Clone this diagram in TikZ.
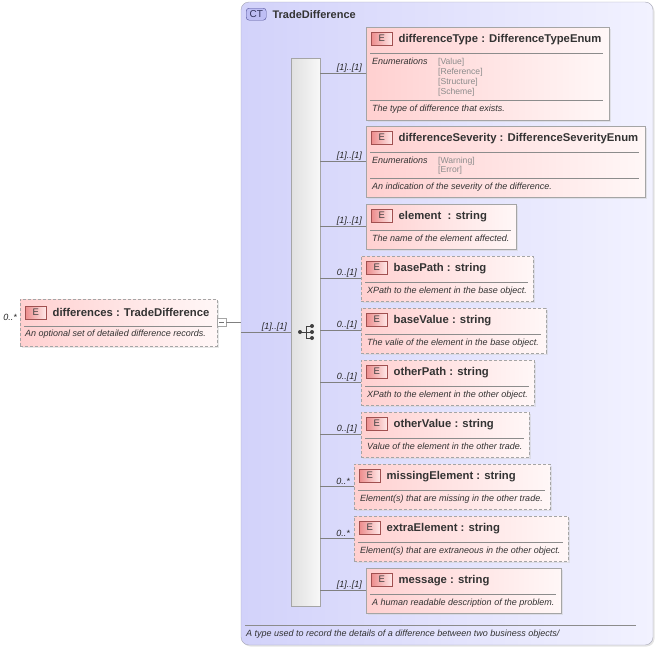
\documentclass[tikz,border=0pt]{standalone}
\usepackage{fontspec}
\setmainfont{Liberation Sans}
\usepackage{xcolor}
\usepackage{tikz}
\usetikzlibrary{shadows}
\usetikzlibrary{calc}

\definecolor{ctfillL}{RGB}{210,210,250}
\definecolor{ctfillR}{RGB}{242,242,255}
\definecolor{ctline}{RGB}{165,165,180}
\definecolor{ctbadge}{RGB}{190,190,244}
\definecolor{ctbadgeline}{RGB}{80,80,150}
\definecolor{elfillL}{RGB}{255,208,208}
\definecolor{elfillR}{RGB}{255,247,247}
\definecolor{elline}{RGB}{165,165,165}
\definecolor{ebadgeL}{RGB}{236,140,140}
\definecolor{ebadgeR}{RGB}{255,232,232}
\definecolor{ebadgeline}{RGB}{160,80,80}
\definecolor{connline}{RGB}{128,128,128}
\definecolor{enumtext}{RGB}{140,140,140}

\begin{document}
\begin{tikzpicture}[x=1pt, y=-1pt]

		\tikzstyle{ctbox}   = [draw=ctline, rounded corners=8pt, left color=ctfillL, right color=ctfillR, anchor=north west, inner sep=0pt, outer sep=0pt, drop shadow={shadow xshift=1.5pt, shadow yshift=-1.5pt, fill=black!20}]
		\tikzstyle{ctbadge} = [draw=ctbadgeline, rounded corners=3pt, fill=ctbadge, anchor=north west, minimum width=20pt, minimum height=12pt, inner sep=0pt, text=ctbadgeline!60!black, font=\fontsize{10}{11}\selectfont]
		\tikzstyle{cttitle} = [anchor=base west, inner sep=0pt, text=black!80, font=\fontsize{11}{13}\selectfont\bfseries]
		\tikzstyle{seqbar}  = [draw=elline, left color=black!12, right color=black!3, anchor=north west, inner sep=0pt, outer sep=0pt]
		\tikzstyle{ebox}    = [draw=elline, left color=elfillL, right color=elfillR, anchor=north west, minimum height=45pt, inner sep=0pt, outer sep=0pt, drop shadow={shadow xshift=1.5pt, shadow yshift=-1.5pt, fill=black!18}]
		\tikzstyle{eboxopt} = [ebox, dashed, dash pattern=on 3pt off 2pt]
		\tikzstyle{ebadge}  = [draw=ebadgeline, left color=ebadgeL, right color=ebadgeR, anchor=north west, minimum width=21pt, minimum height=13pt, inner sep=0pt, text=black!75, font=\fontsize{9.5}{10}\selectfont]
		\tikzstyle{etitle}  = [anchor=base west, inner sep=0pt, text=black!80, font=\fontsize{11.3}{13}\selectfont\bfseries]
		\tikzstyle{edesc}   = [anchor=base west, inner sep=0pt, text=black!80, font=\fontsize{9}{10}\selectfont\itshape]
		\tikzstyle{eenum}   = [anchor=base west, inner sep=0pt, text=enumtext, font=\fontsize{8.6}{9}\selectfont]
		\tikzstyle{sepline} = [draw=black!45, line width=0.6pt]
		\tikzstyle{conn}    = [draw=connline, line width=0.7pt]
		\tikzstyle{mult}    = [anchor=east, inner sep=0pt, text=black!85, font=\fontsize{9}{10}\selectfont\itshape]
		\tikzstyle{minusbox}= [draw=elline, fill=white, anchor=west, minimum width=9pt, minimum height=8pt, inner sep=0pt, outer sep=0pt]

		\useasboundingbox (0,0) rectangle (658,648);

		%%Complex type
		\node [ctbox, minimum width=412pt, minimum height=643pt] (ct) at (241,2) {};
		\node [ctbadge] (ctB) at (246,8) {CT};
		\node [cttitle] at ($(ctB.east) + (6,4)$) {TradeDifference};
		\draw [sepline] (245,625) -- (636,625);
		\node [edesc] at (246,636) {A type used to record the details of a difference between two business objects/};

		%%Sequence
		\node [seqbar, minimum width=29pt, minimum height=548pt] (seq) at (291,58) {};
		\coordinate (sq) at (300,332);
		\fill [black!75] (sq) circle (2pt);
		\draw [black!75, line width=0.8pt] (sq) -- ++(6,0);
		\draw [black!75, line width=0.8pt] (306,326) -- (306,338);
		\foreach \y in {326,332,338}
			{\draw [black!75, line width=0.8pt] (306,\y) -- (312,\y); \fill [black!75] (312,\y) circle (2pt);}

		%%Root element
		\node [eboxopt, minimum width=197pt, minimum height=47pt] (root) at (20,299) {};
		\node [ebadge] (rootE) at ($(root.north west) + (5,7)$) {E};
		\node [etitle] at ($(rootE.east) + (6,4)$) {differences : TradeDifference};
		\draw [sepline] ($(root.north west) + (4,27)$) -- ($(root.north east) + (-5,27)$);
		\node [edesc] at ($(root.north west) + (5,37.5)$) {An optional set of detailed difference records.};
		\node [mult] at ($(root.west) + (-3,-5)$) {0..*};
		\node [minusbox] (rootM) at (root.east) {};
		\draw [black!55] ($(rootM.west) + (2,0)$) -- ($(rootM.east) + (-2,0)$);
		\draw [conn] (rootM.east) -- (rootM.east -| ct.west);
		\draw [conn] (ct.west |- sq) -- (seq.west |- sq);
		\node [mult] at ($(seq.west |- sq) + (-4,-5)$) {[1]..[1]};

		%%differenceType
		\node [ebox, minimum width=243pt, minimum height=93pt] (dt) at (366,27) {};
		\node [ebadge] (dtE) at ($(dt.north west) + (5,5)$) {E};
		\node [etitle] at ($(dtE.east) + (6,4)$) {differenceType : DifferenceTypeEnum};
		\draw [sepline] ($(dt.north west) + (4,26)$) -- ($(dt.north east) + (-6,26)$);
		\node [edesc] at ($(dt.north west) + (6,37)$) {Enumerations};
		\node [eenum] at ($(dt.north west) + (72,37)$) {[Value]};
		\node [eenum] at ($(dt.north west) + (72,47)$) {[Reference]};
		\node [eenum] at ($(dt.north west) + (72,57)$) {[Structure]};
		\node [eenum] at ($(dt.north west) + (72,67)$) {[Scheme]};
		\draw [sepline] ($(dt.north west) + (4,73)$) -- ($(dt.north east) + (-6,73)$);
		\node [edesc] at ($(dt.north west) + (6,84)$) {The type of difference that exists.};
		\draw [conn] (seq.east |- dt.west) -- (dt.west);
		\node [mult] at ($(dt.west) + (-4,-5)$) {[1]..[1]};

		%%differenceSeverity
		\node [ebox, minimum width=279pt, minimum height=71pt] (ds) at (366,126) {};
		\node [ebadge] (dsE) at ($(ds.north west) + (5,5)$) {E};
		\node [etitle] at ($(dsE.east) + (6,4)$) {differenceSeverity : DifferenceSeverityEnum};
		\draw [sepline] ($(ds.north west) + (4,26)$) -- ($(ds.north east) + (-6,26)$);
		\node [edesc] at ($(ds.north west) + (6,37)$) {Enumerations};
		\node [eenum] at ($(ds.north west) + (72,37)$) {[Warning]};
		\node [eenum] at ($(ds.north west) + (72,46)$) {[Error]};
		\draw [sepline] ($(ds.north west) + (4,52)$) -- ($(ds.north east) + (-6,52)$);
		\node [edesc] at ($(ds.north west) + (6,63)$) {An indication of the severity of the difference.};
		\draw [conn] (seq.east |- ds.west) -- (ds.west);
		\node [mult] at ($(ds.west) + (-4,-5)$) {[1]..[1]};

		%%element
		\node [ebox, minimum width=150pt] (el) at (366,204) {};
		\node [ebadge] (elE) at ($(el.north west) + (5,5)$) {E};
		\node [etitle] at ($(elE.east) + (6,4)$) {element\ \ : string};
		\draw [sepline] ($(el.north west) + (4,26)$) -- ($(el.north east) + (-5,26)$);
		\node [edesc] at ($(el.north west) + (6,37)$) {The name of the element affected.};
		\draw [conn] (seq.east |- el.west) -- (el.west);
		\node [mult] at ($(el.west) + (-4,-5)$) {[1]..[1]};

		%%basePath
		\node [eboxopt, minimum width=172pt] (bp) at (361,256) {};
		\node [ebadge] (bpE) at ($(bp.north west) + (5,5)$) {E};
		\node [etitle] at ($(bpE.east) + (6,4)$) {basePath : string};
		\draw [sepline] ($(bp.north west) + (4,26)$) -- ($(bp.north east) + (-5,26)$);
		\node [edesc] at ($(bp.north west) + (6,37)$) {XPath to the element in the base object.};
		\draw [conn] (seq.east |- bp.west) -- (bp.west);
		\node [mult] at ($(bp.west) + (-4,-5)$) {0..[1]};

		%%baseValue
		\node [eboxopt, minimum width=185pt] (bv) at (361,308) {};
		\node [ebadge] (bvE) at ($(bv.north west) + (5,5)$) {E};
		\node [etitle] at ($(bvE.east) + (6,4)$) {baseValue : string};
		\draw [sepline] ($(bv.north west) + (4,26)$) -- ($(bv.north east) + (-5,26)$);
		\node [edesc] at ($(bv.north west) + (6,37)$) {The valie of the element in the base object.};
		\draw [conn] (seq.east |- bv.west) -- (bv.west);
		\node [mult] at ($(bv.west) + (-4,-5)$) {0..[1]};

		%%otherPath
		\node [eboxopt, minimum width=173pt] (op) at (361,360) {};
		\node [ebadge] (opE) at ($(op.north west) + (5,5)$) {E};
		\node [etitle] at ($(opE.east) + (6,4)$) {otherPath : string};
		\draw [sepline] ($(op.north west) + (4,26)$) -- ($(op.north east) + (-5,26)$);
		\node [edesc] at ($(op.north west) + (6,37)$) {XPath to the element in the other object.};
		\draw [conn] (seq.east |- op.west) -- (op.west);
		\node [mult] at ($(op.west) + (-4,-5)$) {0..[1]};

		%%otherValue
		\node [eboxopt, minimum width=168pt] (ov) at (361,412) {};
		\node [ebadge] (ovE) at ($(ov.north west) + (5,5)$) {E};
		\node [etitle] at ($(ovE.east) + (6,4)$) {otherValue : string};
		\draw [sepline] ($(ov.north west) + (4,26)$) -- ($(ov.north east) + (-5,26)$);
		\node [edesc] at ($(ov.north west) + (6,37)$) {Value of the element in the other trade.};
		\draw [conn] (seq.east |- ov.west) -- (ov.west);
		\node [mult] at ($(ov.west) + (-4,-5)$) {0..[1]};

		%%missingElement
		\node [eboxopt, minimum width=196pt] (me) at (354,464) {};
		\node [ebadge] (meE) at ($(me.north west) + (5,5)$) {E};
		\node [etitle] at ($(meE.east) + (6,4)$) {missingElement : string};
		\draw [sepline] ($(me.north west) + (4,26)$) -- ($(me.north east) + (-5,26)$);
		\node [edesc] at ($(me.north west) + (6,37)$) {Element(s) that are missing in the other trade.};
		\draw [conn] (seq.east |- me.west) -- (me.west);
		\node [mult] at ($(me.west) + (-4,-5)$) {0..*};

		%%extraElement
		\node [eboxopt, minimum width=214pt] (ee) at (354,516) {};
		\node [ebadge] (eeE) at ($(ee.north west) + (5,5)$) {E};
		\node [etitle] at ($(eeE.east) + (6,4)$) {extraElement : string};
		\draw [sepline] ($(ee.north west) + (4,26)$) -- ($(ee.north east) + (-5,26)$);
		\node [edesc] at ($(ee.north west) + (6,37)$) {Element(s) that are extraneous in the other object.};
		\draw [conn] (seq.east |- ee.west) -- (ee.west);
		\node [mult] at ($(ee.west) + (-4,-5)$) {0..*};

		%%message
		\node [ebox, minimum width=195pt] (ms) at (366,568) {};
		\node [ebadge] (msE) at ($(ms.north west) + (5,5)$) {E};
		\node [etitle] at ($(msE.east) + (6,4)$) {message : string};
		\draw [sepline] ($(ms.north west) + (4,26)$) -- ($(ms.north east) + (-5,26)$);
		\node [edesc] at ($(ms.north west) + (6,37)$) {A human readable description of the problem.};
		\draw [conn] (seq.east |- ms.west) -- (ms.west);
		\node [mult] at ($(ms.west) + (-4,-5)$) {[1]..[1]};
	\end{tikzpicture}
\end{document}
